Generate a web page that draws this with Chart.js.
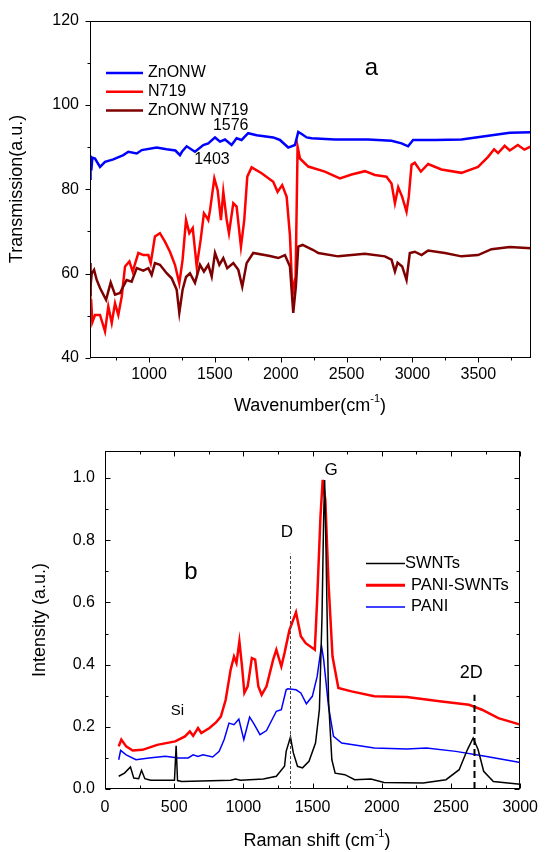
<!DOCTYPE html>
<html>
<head>
<meta charset="utf-8">
<script src="https://cdn.jsdelivr.net/npm/chart.js@4.4.1/dist/chart.umd.min.js"></script>
<style>
  body { margin: 0; background: #fff; }
  #wrap { position: relative; width: 547px; height: 852px; }
  canvas { position: absolute; left: 0; }
  #ftir { top: 0; }
  #raman { top: 420px; }
</style>
</head>
<body>
<div id="wrap">
  <canvas id="ftir" width="547" height="420"></canvas>
  <canvas id="raman" width="547" height="432"></canvas>
</div>
<script>
// --- (a) FTIR spectra: [wavenumber, transmission] ---
const ZNONW = [[552,82.5],[556,88],[562,84.5],[570,87.5],[590,87.3],[628,85.3],[666,86.5],[729,87.1],
  [805,88.1],[843,88.9],[907,88.5],[945,89.3],[1058,89.9],[1134,89.5],[1200,89.2],[1235,88.1],
  [1250,88.9],[1286,90.2],[1349,88.9],[1412,90.5],[1450,90.9],[1501,92.3],[1539,91.3],[1577,91.8],
  [1627,90.5],[1665,92.1],[1703,91.7],[1753,93.3],[1817,92.8],[1943,92.3],[1994,91.7],[2057,89.9],
  [2108,90.5],[2133,93.6],[2159,93.1],[2197,92.3],[2234,92.1],[2411,91.8],[2664,91.8],[2841,91.5],
  [2917,90.9],[2967,90.2],[3005,91.7],[3170,91.7],[3372,91.8],[3549,92.6],[3739,93.4],[3900,93.5]];

const N719 = [[552,58],[555,49],[560,54],[570,48.5],[590,50.2],[628,50.2],[666,46.3],[691,52.2],
  [717,48.3],[742,53],[767,50.2],[793,54.6],[818,61.7],[851,62.9],[876,60.5],[919,64.9],[957,64.4],
  [995,64.4],[1013,62.5],[1045,68.8],[1083,69.6],[1121,67.6],[1159,65.2],[1197,62.1],[1230,57.7],
  [1255,63.3],[1281,72.7],[1306,69.6],[1332,70.8],[1362,61.7],[1392,68],[1417,74.3],[1435,73.5],
  [1450,72.7],[1463,75],[1496,82.6],[1521,79.8],[1546,72.7],[1564,79.4],[1590,72.7],[1607,69.6],
  [1640,76.7],[1665,75.9],[1698,66.4],[1723,72.7],[1746,83],[1779,85.2],[1855,83.8],[1943,81.8],
  [1976,79.4],[2011,81],[2045,78.2],[2070,69],[2083,59.3],[2095,56],[2113,59.3],[2128,90.1],
  [2146,87.3],[2209,85.4],[2335,84.2],[2449,82.6],[2538,83.5],[2639,84.3],[2715,83.4],[2803,83],
  [2841,81.4],[2867,76.7],[2892,80.5],[2922,78.2],[2955,74.7],[2972,78.2],[2993,85.8],[3018,86.3],
  [3064,84.2],[3119,86],[3220,84.7],[3372,83.9],[3498,85.3],[3574,87.7],[3620,89.5],[3650,88.6],
  [3700,90.3],[3739,89.2],[3800,90.5],[3850,89.4],[3900,90.2]];

const ZNONW_N719 = [[552,55],[554,62.5],[558,57],[565,60],[583,60.9],[603,58.5],[628,56.6],[674,53.8],
  [709,57.9],[742,55],[780,55.4],[805,57],[830,58.5],[868,58.1],[907,61.3],[957,60.7],[995,61.3],
  [1020,59.7],[1045,62.5],[1083,62.1],[1134,60.1],[1172,58.9],[1210,56.2],[1230,50.7],[1255,56.2],
  [1281,59.2],[1311,60.1],[1349,57.8],[1387,62.1],[1417,60.5],[1450,62.1],[1476,59.3],[1501,64.9],
  [1534,62.1],[1564,63.7],[1594,61.3],[1640,62.5],[1678,60.9],[1708,56.9],[1741,62.5],[1791,64.9],
  [1918,64.2],[1981,63.7],[2032,64.4],[2070,61.7],[2095,50.7],[2115,57],[2133,66.4],[2166,66.8],
  [2247,65.6],[2285,64.9],[2436,64.1],[2639,64.7],[2791,64.1],[2841,63.3],[2867,60.5],[2887,62.6],
  [2922,61.7],[2955,58.5],[2980,64.9],[3018,65.2],[3069,64.4],[3119,65.5],[3246,64.9],[3372,64.1],
  [3498,64.4],[3600,65.8],[3739,66.3],[3900,66]];

const FTIR_X_TICKS = [1000, 1500, 2000, 2500, 3000, 3500];
const FTIR_Y_TICKS = [40, 60, 80, 100, 120];

// --- (b) Raman spectra: [shift, intensity] ---
const SWNTS = [[99,0.041],[141,0.051],[184,0.071],[208,0.035],[243,0.033],[264,0.060],[288,0.033],
  [330,0.028],[502,0.028],[514,0.139],[524,0.027],[554,0.024],[908,0.028],[943,0.032],[979,0.028],
  [1144,0.032],[1238,0.041],[1297,0.073],[1309,0.121],[1340,0.167],[1361,0.116],[1391,0.073],
  [1427,0.068],[1474,0.089],[1521,0.148],[1549,0.255],[1568,0.555],[1580,0.877],[1587,0.994],
  [1597,0.77],[1615,0.287],[1639,0.094],[1663,0.051],[1733,0.046],[1804,0.030],[1922,0.032],
  [2016,0.021],[2299,0.019],[2464,0.030],[2559,0.062],[2618,0.126],[2660,0.164],[2696,0.126],
  [2736,0.057],[2806,0.024],[3000,0.015]];

const PANI_SWNTS = [[99,0.137],[118,0.159],[153,0.137],[200,0.124],[271,0.126],[377,0.142],[507,0.153],
  [578,0.169],[613,0.185],[637,0.171],[672,0.196],[696,0.18],[755,0.196],[802,0.214],[837,0.233],
  [872,0.287],[908,0.384],[932,0.426],[950,0.405],[971,0.475],[990,0.394],[1007,0.309],[1031,0.33],
  [1061,0.421],[1085,0.416],[1108,0.33],[1132,0.303],[1167,0.33],[1215,0.416],[1238,0.448],
  [1274,0.394],[1297,0.437],[1332,0.51],[1380,0.568],[1415,0.491],[1450,0.469],[1516,0.448],
  [1533,0.609],[1557,0.877],[1573,0.994],[1592,0.93],[1615,0.662],[1644,0.426],[1686,0.325],
  [1781,0.314],[1946,0.298],[2181,0.296],[2417,0.282],[2630,0.271],[2724,0.255],[2842,0.228],[3000,0.207]];

const PANI = [[99,0.094],[113,0.124],[153,0.110],[224,0.094],[318,0.1],[436,0.105],[531,0.1],[601,0.1],
  [637,0.11],[672,0.105],[708,0.11],[778,0.103],[825,0.121],[861,0.159],[896,0.212],[932,0.207],
  [967,0.225],[1003,0.159],[1045,0.231],[1073,0.212],[1120,0.175],[1167,0.188],[1238,0.25],
  [1274,0.255],[1309,0.319],[1321,0.322],[1380,0.319],[1415,0.309],[1455,0.274],[1498,0.298],
  [1533,0.362],[1564,0.461],[1580,0.416],[1615,0.266],[1651,0.169],[1710,0.148],[1946,0.132],
  [2181,0.129],[2323,0.132],[2535,0.121],[2747,0.105],[3000,0.085]];

const RAMAN_X_TICKS = [0, 500, 1000, 1500, 2000, 2500, 3000];
const RAMAN_Y_TICKS = [0, 0.2, 0.4, 0.6, 0.8, 1.0];

const FONT = '"Liberation Sans", Arial, Helvetica, sans-serif';

function line(label, pts, color, width, order) {
  return {
    label, order,
    data: pts.map(p => ({ x: p[0], y: p[1] })),
    borderColor: color, borderWidth: width,
    pointRadius: 0, tension: 0, fill: false
  };
}

// box + minor/major tick marks
const frame = {
  id: 'frame',
  afterDraw(chart, args, o) {
    const { ctx, chartArea: a } = chart;
    const sx = chart.scales.x, sy = chart.scales.y;
    const L = Math.round(a.left) + .5, R = Math.round(a.right) - .5;
    const T = Math.round(a.top) + .5, B = Math.round(a.bottom) - .5;
    const dir = o.inside ? -1 : 1;
    ctx.save();
    ctx.strokeStyle = '#000';
    ctx.lineWidth = 1;
    ctx.strokeRect(L, T, R - L, B - T);
    ctx.beginPath();
    let n0 = Math.ceil(sx.min / o.xMinor - 1e-9), n1 = Math.floor(sx.max / o.xMinor + 1e-9);
    for (let n = n0; n <= n1; n++) {
      const px = Math.round(sx.getPixelForValue(n * o.xMinor)) + .5;
      const len = n % 2 === 0 ? o.major : o.minor;
      if (o.sides.includes('bottom')) { ctx.moveTo(px, B); ctx.lineTo(px, B + dir * len); }
      if (o.sides.includes('top')) { ctx.moveTo(px, T); ctx.lineTo(px, T - dir * len); }
    }
    n0 = Math.ceil(sy.min / o.yMinor - 1e-9); n1 = Math.floor(sy.max / o.yMinor + 1e-9);
    for (let n = n0; n <= n1; n++) {
      const py = Math.round(sy.getPixelForValue(n * o.yMinor)) + .5;
      const len = n % 2 === 0 ? o.major : o.minor;
      if (o.sides.includes('left')) { ctx.moveTo(L, py); ctx.lineTo(L - dir * len, py); }
      if (o.sides.includes('right')) { ctx.moveTo(R, py); ctx.lineTo(R + dir * len, py); }
    }
    ctx.stroke();
    ctx.restore();
  }
};

function drawParts(ctx, parts, size) {
  const sup = Math.round(size * 0.62);
  let w = 0;
  parts.forEach(p => {
    ctx.font = (p[1] ? sup : size) + 'px ' + FONT;
    p.w = ctx.measureText(p[0]).width;
    w += p.w;
  });
  let x = -w / 2;
  parts.forEach(p => {
    ctx.font = (p[1] ? sup : size) + 'px ' + FONT;
    ctx.fillText(p[0], x, p[1] ? -size * 0.38 : 0);
    x += p.w;
  });
}

// notes, dashed markers, legend, axis titles
const notes = {
  id: 'notes',
  afterDraw(chart, args, o) {
    const ctx = chart.ctx, sx = chart.scales.x, sy = chart.scales.y;
    ctx.save();
    ctx.fillStyle = '#000';
    (o.dashes || []).forEach(d => {
      ctx.setLineDash(d.dash);
      ctx.strokeStyle = d.color;
      ctx.lineWidth = d.width;
      const px = Math.round(sx.getPixelForValue(d.x)) + .5;
      ctx.beginPath();
      ctx.moveTo(px, sy.getPixelForValue(d.y0));
      ctx.lineTo(px, sy.getPixelForValue(d.y1));
      ctx.stroke();
    });
    ctx.setLineDash([]);
    ctx.textAlign = 'center';
    ctx.textBaseline = 'middle';
    (o.labels || []).forEach(l => {
      ctx.font = l.size + 'px ' + FONT;
      ctx.fillText(l.text, sx.getPixelForValue(l.x), sy.getPixelForValue(l.y));
    });
    const lg = o.legend;
    chart.data.datasets.forEach((ds, i) => {
      const yy = lg.y + i * lg.gap;
      ctx.strokeStyle = ds.borderColor;
      ctx.lineWidth = lg.widths[i];
      ctx.beginPath();
      ctx.moveTo(lg.x0, yy);
      ctx.lineTo(lg.x1, yy);
      ctx.stroke();
      ctx.textAlign = 'left';
      ctx.font = lg.size + 'px ' + FONT;
      ctx.fillText(ds.label, lg.tx[i], yy);
    });
    ctx.textAlign = 'left';
    (o.titles || []).forEach(t => {
      ctx.save();
      ctx.translate(t.x, t.y);
      if (t.rot) ctx.rotate(-Math.PI / 2);
      drawParts(ctx, t.parts, t.size);
      ctx.restore();
    });
    ctx.restore();
  }
};

function scale(min, max, tickVals, fmt, pad, fitKey, fitVal) {
  return {
    type: 'linear', min, max,
    grid: { display: false, drawTicks: false },
    border: { display: false },
    afterBuildTicks: s => { s.ticks = tickVals.map(v => ({ value: v })); },
    ticks: {
      padding: pad, maxRotation: 0, autoSkip: false, color: '#000',
      font: { family: FONT, size: 16 },
      callback: fmt
    },
    afterFit: s => { s[fitKey] = fitVal; }
  };
}

new Chart(document.getElementById('ftir'), {
  type: 'line',
  data: {
    datasets: [
      line('ZnONW', ZNONW, '#0000ff', 2.5, 0),
      line('N719', N719, '#ff0000', 2.5, 2),
      line('ZnONW N719', ZNONW_N719, '#7f0000', 2.5, 1)
    ]
  },
  options: {
    responsive: false, animation: false, devicePixelRatio: 1,
    layout: { padding: { top: 20, right: 16, left: 0, bottom: 0 } },
    scales: {
      x: scale(552, 3900, FTIR_X_TICKS, v => v, 7, 'height', 62),
      y: scale(40, 120, FTIR_Y_TICKS, v => v, 11, 'width', 90)
    },
    plugins: {
      legend: { display: false },
      tooltip: { enabled: false },
      frame: { sides: ['left', 'bottom'], inside: false, xMinor: 250, yMinor: 10, major: 5, minor: 3 },
      notes: {
        labels: [
          { text: 'a', x: 2689, y: 108.7, size: 24 },
          { text: '1576', x: 1620, y: 95, size: 16 },
          { text: '1403', x: 1478, y: 87.1, size: 16 }
        ],
        legend: { x0: 106, x1: 143, y: 73, gap: 18.7, size: 16, widths: [2.5, 2.5, 2.5], tx: [148, 148, 148] },
        titles: [
          { parts: [['Transmission(a.u.)']], x: 17, y: 189, rot: true, size: 18 },
          { parts: [['Wavenumber(cm'], ['-1', true], [')']], x: 310, y: 406, size: 18 }
        ]
      }
    }
  },
  plugins: [frame, notes]
});

new Chart(document.getElementById('raman'), {
  type: 'line',
  data: {
    datasets: [
      line('SWNTs', SWNTS, '#000000', 1.5, 0),
      line('PANI-SWNTs', PANI_SWNTS, '#ff0000', 2.5, 1),
      line('PANI', PANI, '#0000ff', 1.5, 2)
    ]
  },
  options: {
    responsive: false, animation: false, devicePixelRatio: 1,
    layout: { padding: { top: 31, right: 18, left: 0, bottom: 0 } },
    scales: {
      x: scale(0, 3000, RAMAN_X_TICKS, v => v, 9, 'height', 63),
      y: scale(0, 1.087, RAMAN_Y_TICKS, v => Number(v).toFixed(1), 10, 'width', 105)
    },
    plugins: {
      legend: { display: false },
      tooltip: { enabled: false },
      frame: { sides: ['left', 'bottom', 'top', 'right'], inside: true, xMinor: 250, yMinor: 0.1, major: 5, minor: 3 },
      notes: {
        dashes: [
          { x: 1340, y0: 0, y1: 0.757, dash: [3, 2], color: '#444', width: 1 },
          { x: 2665, y0: 0, y1: 0.303, dash: [7, 4], color: '#000', width: 2 }
        ],
        labels: [
          { text: 'b', x: 620, y: 0.696, size: 24 },
          { text: 'D', x: 1314, y: 0.824, size: 17 },
          { text: 'G', x: 1634, y: 1.024, size: 17 },
          { text: '2D', x: 2646, y: 0.374, size: 18 },
          { text: 'Si', x: 524, y: 0.25, size: 15 }
        ],
        legend: { x0: 366, x1: 405, y: 143.5, gap: 21.7, size: 16.5, widths: [1.5, 3, 1.5], tx: [405, 411, 411] },
        titles: [
          { parts: [['Intensity (a.u.)']], x: 40, y: 200, rot: true, size: 18 },
          { parts: [['Raman shift (cm'], ['-1', true], [')']], x: 317, y: 421, size: 18 }
        ]
      }
    }
  },
  plugins: [frame, notes]
});
</script>
</body>
</html>
